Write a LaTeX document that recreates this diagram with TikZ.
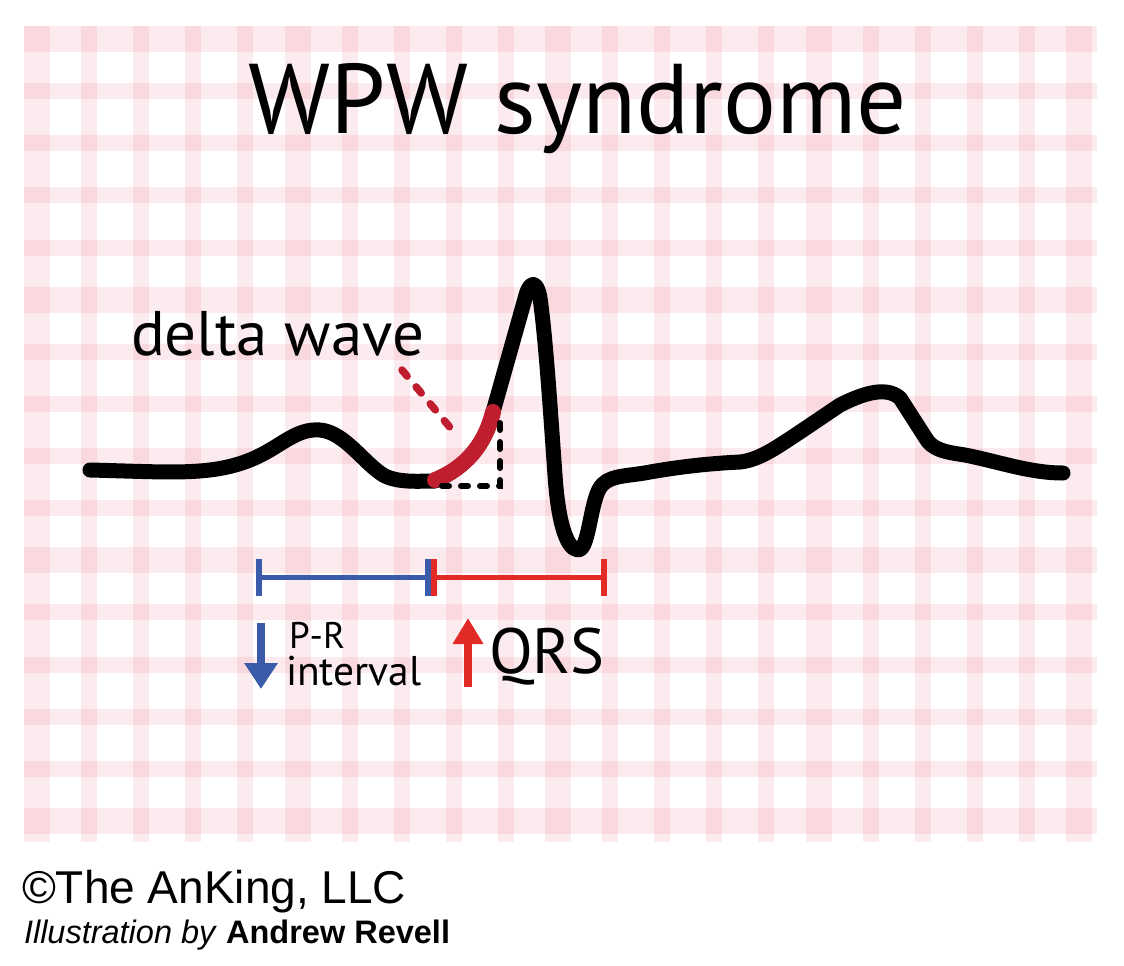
\documentclass[tikz,border=0pt]{standalone}
\usepackage{fontspec}
\setmainfont{Liberation Sans}
\newfontfamily\myr{PT Sans}
\usetikzlibrary{arrows.meta}
\definecolor{gridc}{RGB}{235,100,120}
\definecolor{prblue}{RGB}{58,91,169}
\definecolor{qrsred}{RGB}{226,42,38}
\definecolor{deltared}{RGB}{190,30,45}
\tikzset{
  gridband/.style={fill=gridc, fill opacity=0.13},
  ecg/.style={line width=15pt, line cap=round, line join=round, black},
  deltaseg/.style={line width=16pt, line cap=round, deltared},
  boxdash/.style={line width=6pt, line cap=round, dash pattern=on 7pt off 12pt, black},
  reddash/.style={line width=7.5pt, line cap=round, dash pattern=on 8pt off 14pt, deltared},
  prbar/.style={line width=5pt, prblue},
  prtick/.style={line width=5.5pt, prblue},
  qrsbar/.style={line width=5pt, qrsred},
  qrstick/.style={line width=5.5pt, qrsred},
  txt/.style={inner sep=0pt, outer sep=0pt},
}
\begin{document}
\begin{tikzpicture}[x=1pt,y=-1pt]
\useasboundingbox (0,0) rectangle (1124,966);
% grid: horizontal bands
\foreach \k in {1,2,3,4,6,7,8,9,11,12,13,14}
  \fill[gridband] (24,{39+52.133*\k-8}) rectangle (1097,{39+52.133*\k+8});
\foreach \k in {0,5,10,15}
  \fill[gridband] (24,{39+52.133*\k-13}) rectangle (1097,{39+52.133*\k+13});
% grid: vertical bands
\foreach \k in {1,2,3,4,6,7,8,9,11,12,13,14,16,17,18,19}
  \fill[gridband] ({37+52.1*\k-8},26) rectangle ({37+52.1*\k+8},842);
\foreach \k in {0,5,10,15,20}
  \fill[gridband] ({37+52.1*\k-13},26) rectangle ({37+52.1*\k+13},842);

% title
\node[txt, font=\myr\fontsize{99}{100}\selectfont, anchor=base] (title) at (578,133) {WPW syndrome};

% ECG trace
\draw[ecg] (90,470) .. controls (170,472) and (210,476) .. (250,460)
  .. controls (280,448) and (295,428) .. (320,430)
  .. controls (345,432) and (365,465) .. (385,476)
  .. controls (400,483) and (420,481) .. (435,481)
  .. controls (465,468) and (485,445) .. (493,412)
  -- (526,295) .. controls (530,281) and (537,280) .. (540,298)
  .. controls (546,340) and (551,420) .. (555,475)
  .. controls (558,520) and (566,549) .. (578,550)
  .. controls (590,550) and (590,495) .. (603,484)
  .. controls (612,475) and (630,476) .. (650,472)
  .. controls (690,465) and (720,463) .. (740,462)
  .. controls (760,460) and (780,445) .. (800,432)
  -- (840,405) .. controls (860,395) and (885,385) .. (900,398)
  -- (925,437) .. controls (932,450) and (945,452) .. (965,455)
  .. controls (1000,462) and (1030,473) .. (1063,473);

% delta wave
\coordinate (d0) at (435,480);
\coordinate (d1) at (493,412);
\draw[deltaseg] (d0) .. controls (465,468) and (485,445) .. (d1);
\coordinate (b0) at (442,486);
\coordinate (b1) at (500,486);
\coordinate (b2) at (500,414);
\draw[boxdash] (b0) -- (b1) -- (b2);

% labels
\node[txt, font=\myr\fontsize{63}{70}\selectfont, anchor=base west] (delta) at (131,355) {delta wave};
\coordinate (r0) at (402,370);
\coordinate (r1) at (458,437);
\draw[reddash] (r0) -- (r1);

% interval bars
\coordinate (p0) at (259,577);
\coordinate (p1) at (428,577);
\coordinate (q0) at (434,577);
\coordinate (q1) at (604,577);
\draw[prbar] (p0) -- (p1);
\draw[prtick] ([yshift=-19pt]p0) -- ([yshift=18pt]p0);
\draw[prtick] ([yshift=-19pt]p1) -- ([yshift=18pt]p1);
\draw[qrsbar] (q0) -- (q1);
\draw[qrstick] ([yshift=-19pt]q0) -- ([yshift=18pt]q0);
\draw[qrstick] ([yshift=-19pt]q1) -- ([yshift=18pt]q1);

% arrows
\coordinate (a0) at (261,623);
\coordinate (a1) at (261,689);
\draw[prblue, line width=8pt, -{Triangle[width=32pt,length=26pt]}] (a0) -- (a1);
\coordinate (c0) at (468,687);
\coordinate (c1) at (468,618);
\draw[qrsred, line width=8pt, -{Triangle[width=29pt,length=26pt]}] (c0) -- (c1);

\node[txt, font=\myr\fontsize{37}{40}\selectfont, anchor=base west] (pr) at (289,648) {P-R};
\node[txt, font=\myr\fontsize{41.5}{40}\selectfont, anchor=base west] (interval) at (286,685) {interval};
\node[txt, font=\myr\fontsize{64}{70}\selectfont, anchor=base west] (qrs) at (489,673) {QRS};

% credits
\node[txt, font=\fontsize{46}{48}\selectfont, anchor=base west] (copy) at (22,903) {©The AnKing, LLC};
\node[txt, font=\fontsize{32.5}{36}\selectfont, anchor=base west] (illus) at (24,943) {\textit{Illustration by} \textbf{Andrew Revell}};
\end{tikzpicture}
\end{document}
